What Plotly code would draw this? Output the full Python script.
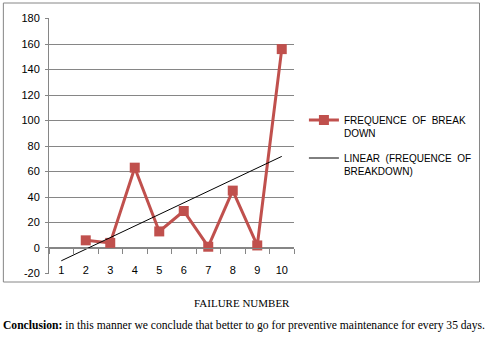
import numpy as np
import plotly.graph_objects as go

categories = ["1", "2", "3", "4", "5", "6", "7", "8", "9", "10"]
failure_numbers = [2, 3, 4, 5, 6, 7, 8, 9, 10]
breakdowns = [6, 4, 63, 13, 29, 1, 45, 2, 156]
y_ticks = [-20, 0, 20, 40, 60, 80, 100, 120, 140, 160, 180]
y_tick_text = ["-20", "0", "20", "40", "60", "80", "100", "120", "140", "160", "180"]

series_name = "FREQUENCE  OF  BREAK<br>DOWN"
trend_name = "LINEAR  (FREQUENCE  OF<br>BREAKDOWN)"
x_title = "FAILURE NUMBER"
conclusion = "<b>Conclusion:</b> in this manner we conclude that better to go for preventive maintenance for every 35 days."

# Linear trendline (least squares, as Excel's linear trendline)
slope, intercept = np.polyfit(failure_numbers, breakdowns, 1)
all_x = np.arange(1, len(categories) + 1)
trend = slope * all_x + intercept

W, H = 489, 342
L, R, T, B = 49, 296, 18, 274  # plot area in pixels


def px_x(p):
    return (p - L) / (R - L)


def px_y(p):
    return (B - p) / (B - T)


grid_col = "#868686"

fig = go.Figure()
fig.add_trace(go.Scatter(
    x=[str(v) for v in failure_numbers], y=breakdowns, mode="lines+markers",
    name=series_name, legendgroup="a",
    line=dict(color="#C0504D", width=3),
    marker=dict(symbol="square", size=10, color="#C0504D"),
))
fig.add_trace(go.Scatter(
    x=categories, y=trend, mode="lines", name=trend_name, legendgroup="b",
    line=dict(color="#000000", width=1),
))

fig.update_layout(
    width=W, height=H,
    margin=dict(l=L, r=W - R, t=T, b=H - B),
    paper_bgcolor="white", plot_bgcolor="white",
    font=dict(family="Liberation Sans, Arial, sans-serif", size=11, color="#000000"),
    showlegend=True,
    legend=dict(
        x=px_x(306), y=px_y(107), xanchor="left", yanchor="top",
        font=dict(size=10, family="Liberation Sans, Arial, sans-serif"),
        valign="top", bgcolor="rgba(0,0,0,0)",
        traceorder="grouped", tracegroupgap=9,
    ),
    xaxis=dict(
        type="category", categoryorder="array", categoryarray=categories,
        range=[-0.5, len(categories) - 0.5],
        anchor="free", position=20 / 200,
        showline=True, linecolor=grid_col, linewidth=1,
        ticks="outside", tickson="boundaries", ticklen=5, tickcolor=grid_col,
        ticklabelstandoff=11,
        showgrid=False, zeroline=False,
        tickfont=dict(size=11),
    ),
    yaxis=dict(
        range=[-20.4, 180.4], tickvals=y_ticks, ticktext=y_tick_text,
        showgrid=True, gridcolor=grid_col, gridwidth=1,
        showline=True, linecolor=grid_col, linewidth=1,
        ticks="outside", ticklen=3, tickcolor=grid_col,
        ticklabelstandoff=3,
        zeroline=False, tickfont=dict(size=11),
    ),
    shapes=[dict(
        type="rect", xref="paper", yref="paper",
        x0=px_x(3), x1=px_x(483), y0=px_y(282), y1=px_y(3),
        line=dict(color=grid_col, width=1), fillcolor="rgba(0,0,0,0)", layer="below",
    )],
    annotations=[
        dict(text=x_title, xref="paper", yref="paper", x=px_x(244), y=px_y(303),
             xanchor="center", yanchor="middle", showarrow=False,
             font=dict(family="Liberation Serif, Times New Roman, serif", size=11)),
        dict(text=conclusion, xref="paper", yref="paper", x=px_x(1), y=px_y(325),
             xanchor="left", yanchor="middle", showarrow=False,
             font=dict(family="Liberation Serif, Times New Roman, serif", size=11.6)),
    ],
)

fig.write_html("out.html", config={"displayModeBar": False},
               post_script="document.body.style.margin='0';document.body.style.overflow='hidden';")
